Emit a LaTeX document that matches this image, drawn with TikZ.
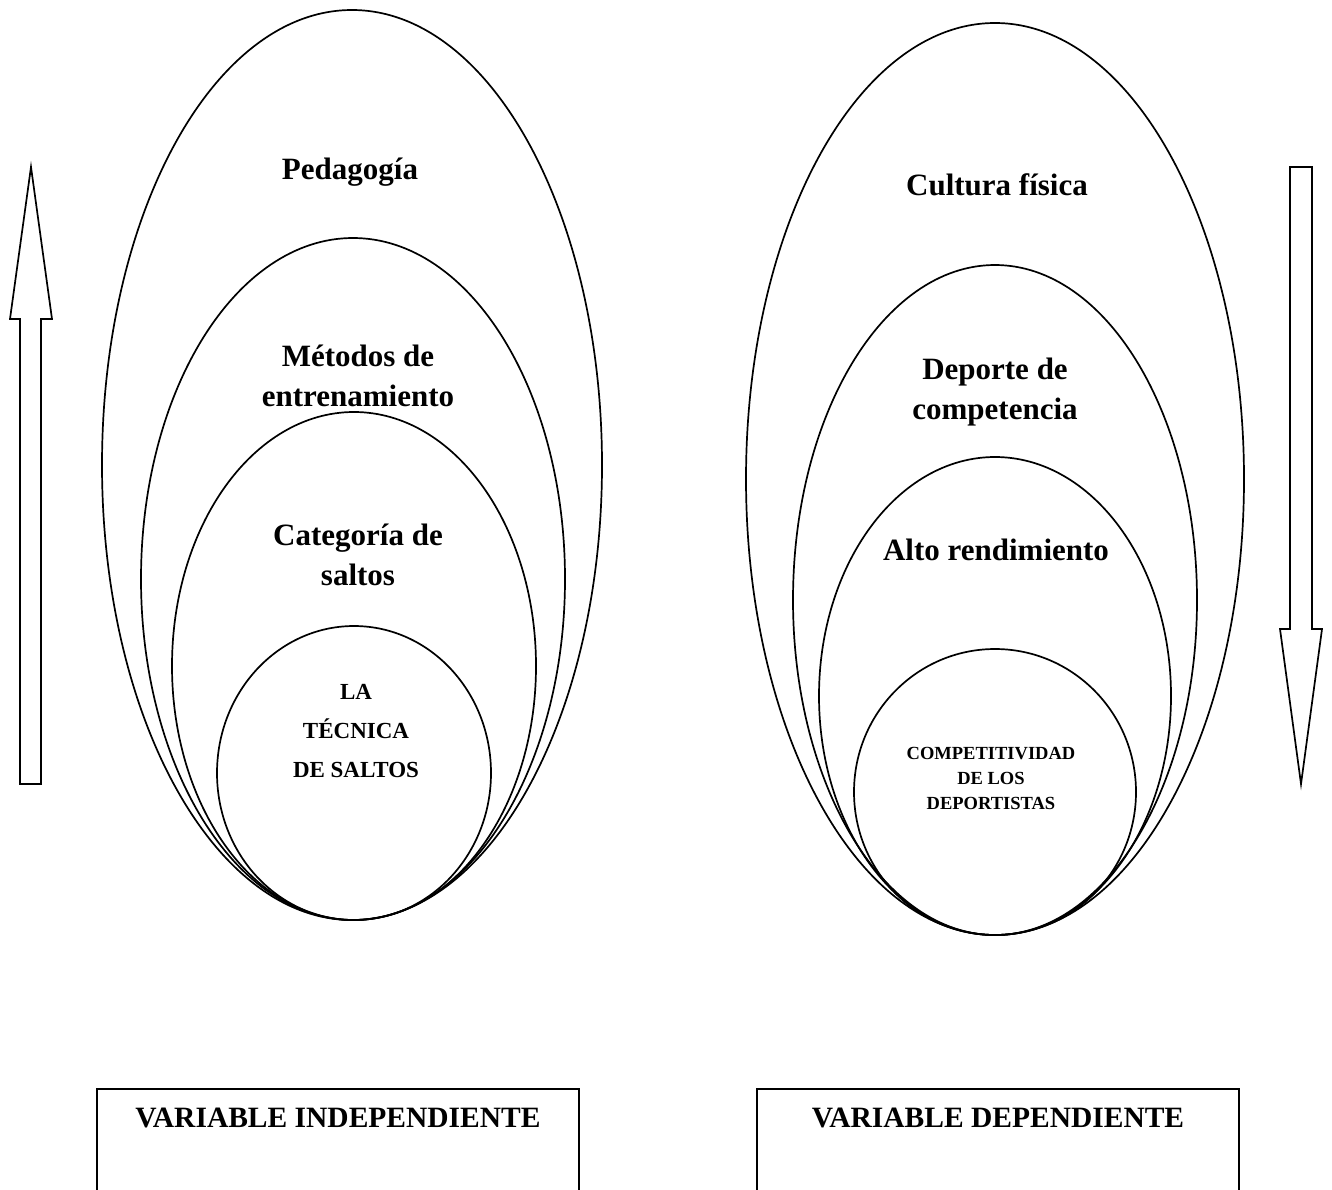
\documentclass[tikz,border=0pt]{standalone}
\usepackage{fontspec}
\setmainfont{Liberation Serif}
\begin{document}
\begin{tikzpicture}[x=1pt,y=-1pt,
  shape line/.style={line width=1.7pt, black},
  lbl/.style={font=\fontsize{31}{40}\selectfont\bfseries, align=center, inner sep=0pt},
  smalllbl/.style={font=\fontsize{18.5}{25}\selectfont\bfseries, align=center, inner sep=0pt},
  tecnlbl/.style={font=\fontsize{23}{39}\selectfont\bfseries, align=center, inner sep=0pt},
  boxlbl/.style={font=\fontsize{29.5}{34}\selectfont\bfseries, inner sep=0pt}]
\useasboundingbox (0,0) rectangle (1332,1189);
% left ellipses (all touching at the bottom)
\draw[shape line] (352,465) ellipse [x radius=250, y radius=455];
\draw[shape line] (353,579) ellipse [x radius=212, y radius=341];
\draw[shape line] (354,666) ellipse [x radius=182, y radius=254];
\draw[shape line] (354,773) ellipse [x radius=137, y radius=147];
% right ellipses
\draw[shape line] (995,479) ellipse [x radius=249, y radius=456];
\draw[shape line] (995,600) ellipse [x radius=202, y radius=335];
\draw[shape line] (995,696) ellipse [x radius=176, y radius=239];
\draw[shape line] (995,792) ellipse [x radius=141, y radius=143];
% left texts
\node[lbl] (ped) at (350,172) {Pedagogía};
\node[lbl] (met) at (358,376) {Métodos de\\entrenamiento};
\node[lbl] (cat) at (358,555) {Categoría de\\saltos};
\node[tecnlbl] (tec) at (356,731) {LA\\TÉCNICA\\DE SALTOS};
% right texts
\node[lbl] (cul) at (997,185) {Cultura física};
\node[lbl] (dep) at (995,392) {Deporte de\\competencia};
\node[lbl] (alto) at (996,550) {Alto rendimiento};
\node[smalllbl] (comp) at (991,778) {COMPETITIVIDAD\\DE LOS\\DEPORTISTAS};
% arrows
\draw[shape line, line join=miter] (31,167) -- (52,319) -- (41,319) -- (41,784) -- (20,784) -- (20,319) -- (10,319) -- cycle;
\draw[shape line, line join=miter] (1290,167) -- (1312,167) -- (1312,629) -- (1322,629) -- (1301,784) -- (1280,629) -- (1290,629) -- cycle;
% boxes (open at the bottom edge of the page)
\coordinate (lb1) at (97,1195);
\coordinate (lb2) at (97,1089);
\coordinate (lb3) at (579,1089);
\coordinate (lb4) at (579,1195);
\draw[shape line] (lb1) -- (lb2) -- (lb3) -- (lb4);
\coordinate (rb1) at (757,1195);
\coordinate (rb2) at (757,1089);
\coordinate (rb3) at (1239,1089);
\coordinate (rb4) at (1239,1195);
\draw[shape line] (rb1) -- (rb2) -- (rb3) -- (rb4);
\node[boxlbl] (vi) at (338,1118) {VARIABLE INDEPENDIENTE};
\node[boxlbl] (vd) at (998,1118) {VARIABLE DEPENDIENTE};
\end{tikzpicture}
\end{document}
